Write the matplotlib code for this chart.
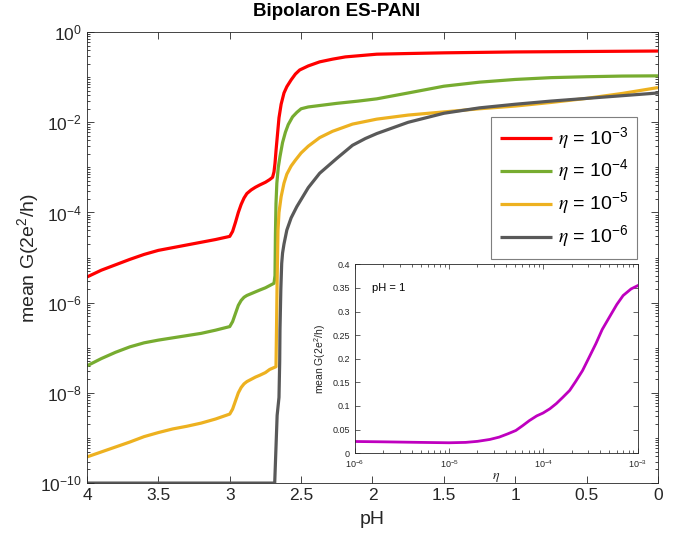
import numpy as np
import matplotlib
matplotlib.use("Agg")
from matplotlib import pyplot as plt, ticker

plt.rcParams['font.family'] = ['Liberation Sans', 'DejaVu Sans']
plt.rcParams['mathtext.fontset'] = 'custom'
plt.rcParams['mathtext.rm'] = 'Liberation Sans'
plt.rcParams['mathtext.it'] = 'STIXGeneral:italic'

# ---- main panel: mean conductance vs pH (log10 values)
ph_red = [4.0, 3.9, 3.8, 3.7, 3.6, 3.5, 3.4, 3.3, 3.2, 3.1, 3.0, 2.98, 2.96, 2.94, 2.92, 2.90,
          2.88, 2.85, 2.82, 2.79, 2.75, 2.72, 2.70, 2.69, 2.683, 2.675, 2.665, 2.655, 2.64, 2.62,
          2.60, 2.57, 2.54, 2.51, 2.45, 2.37, 2.28, 2.19, 2.08, 1.97, 1.75, 1.5, 1.0, 0.5, 0.0]
lg_red = [-5.43, -5.28, -5.16, -5.04, -4.93, -4.84, -4.78, -4.72, -4.66, -4.60, -4.53, -4.42,
          -4.22, -4.00, -3.82, -3.68, -3.58, -3.50, -3.44, -3.39, -3.33, -3.27, -3.22, -3.10,
          -2.91, -2.60, -2.25, -1.90, -1.60, -1.35, -1.21, -1.06, -0.93, -0.84, -0.75, -0.66,
          -0.60, -0.55, -0.52, -0.49, -0.475, -0.46, -0.44, -0.43, -0.42]

ph_green = [4.0, 3.9, 3.8, 3.7, 3.6, 3.5, 3.4, 3.3, 3.2, 3.1, 3.0, 2.98, 2.96, 2.94, 2.92, 2.90,
            2.88, 2.85, 2.82, 2.79, 2.75, 2.72, 2.69, 2.683, 2.68, 2.676, 2.67, 2.66, 2.648, 2.63,
            2.61, 2.59, 2.56, 2.53, 2.50, 2.45, 2.35, 2.25, 2.1, 1.97, 1.75, 1.5, 1.25, 1.0,
            0.75, 0.5, 0.25, 0.0]
lg_green = [-7.40, -7.24, -7.10, -6.98, -6.89, -6.83, -6.78, -6.73, -6.68, -6.61, -6.53, -6.42,
            -6.24, -6.06, -5.95, -5.88, -5.84, -5.80, -5.76, -5.72, -5.67, -5.62, -5.57, -5.40,
            -4.50, -3.80, -3.35, -3.00, -2.76, -2.45, -2.22, -2.05, -1.88, -1.78, -1.70, -1.66,
            -1.62, -1.58, -1.53, -1.48, -1.35, -1.20, -1.11, -1.05, -1.01, -0.99, -0.975, -0.97]

ph_yellow = [4.0, 3.9, 3.8, 3.7, 3.6, 3.5, 3.4, 3.3, 3.2, 3.1, 3.0, 2.98, 2.96, 2.94, 2.92, 2.90,
             2.88, 2.85, 2.82, 2.79, 2.75, 2.72, 2.676, 2.672, 2.668, 2.662, 2.655, 2.64, 2.62,
             2.60, 2.57, 2.54, 2.50, 2.45, 2.37, 2.28, 2.14, 1.97, 1.75, 1.5, 1.25, 1.0, 0.75,
             0.5, 0.25, 0.0]
lg_yellow = [-9.42, -9.31, -9.20, -9.09, -8.97, -8.88, -8.80, -8.74, -8.67, -8.58, -8.47, -8.36,
             -8.18, -8.00, -7.88, -7.80, -7.75, -7.70, -7.65, -7.61, -7.55, -7.48, -7.42, -6.50,
             -5.50, -4.40, -4.00, -3.65, -3.35, -3.15, -2.97, -2.84, -2.68, -2.53, -2.34, -2.20,
             -2.04, -1.93, -1.84, -1.77, -1.70, -1.64, -1.56, -1.47, -1.36, -1.23]

ph_gray = [4.0, 2.685, 2.668, 2.655, 2.650, 2.648, 2.642, 2.636, 2.63, 2.62, 2.60, 2.57, 2.53,
           2.45, 2.37, 2.25, 2.14, 2.05, 1.97, 1.75, 1.5, 1.25, 1.0, 0.75, 0.5, 0.25, 0.0]
lg_gray = [-10.0, -10.0, -8.50, -8.10, -7.30, -6.60, -5.70, -5.13, -4.90, -4.70, -4.39, -4.12,
           -3.87, -3.45, -3.13, -2.80, -2.51, -2.36, -2.25, -2.00, -1.80, -1.68, -1.60, -1.53,
           -1.47, -1.41, -1.35]

labels = [r'$\eta$ = 10$^{-3}$', r'$\eta$ = 10$^{-4}$', r'$\eta$ = 10$^{-5}$', r'$\eta$ = 10$^{-6}$']
colors = ['#FF0000', '#77AC30', '#EDB120', '#595959']

# ---- inset: mean conductance vs eta at pH = 1
eta = [1e-6, 2e-6, 5e-6, 1e-5, 1.5e-5, 2e-5, 2.7e-5, 3.4e-5, 4.2e-5, 5.1e-5, 6e-5, 7.1e-5,
       8.5e-5, 9.9e-5, 1.17e-4, 1.37e-4, 1.6e-4, 1.9e-4, 2.2e-4, 2.6e-4, 3e-4, 3.6e-4, 4.2e-4,
       5e-4, 6e-4, 7e-4, 8.5e-4, 1e-3]
g_eta = [0.0247, 0.024, 0.0228, 0.022, 0.0228, 0.025, 0.029, 0.034, 0.041, 0.048, 0.058, 0.069,
         0.079, 0.085, 0.094, 0.105, 0.118, 0.133, 0.152, 0.175, 0.200, 0.232, 0.262, 0.288,
         0.315, 0.334, 0.348, 0.355]

axis_col = '#262626'

fig = plt.figure(figsize=(6.77, 5.44), dpi=100)
ax = fig.add_axes([0.1285, 0.112, 0.8434, 0.829])

series = [(ph_red, lg_red), (ph_green, lg_green), (ph_yellow, lg_yellow), (ph_gray, lg_gray)]
for (ph, lg), c, lab in zip(series, colors, labels):
    ax.plot(ph, 10.0 ** np.array(lg), color=c, linewidth=2.3, label=lab,
            solid_joinstyle='round', solid_capstyle='butt')

ax.set_yscale('log')
ax.set_xlim(4, 0)
ax.set_ylim(1e-10, 1)
ax.set_xticks(np.arange(0, 4.01, 0.5))
ax.xaxis.set_major_formatter(ticker.FuncFormatter(lambda v, p: '%g' % v))
ax.set_yticks([10.0 ** k for k in range(-10, 1, 2)])
ax.yaxis.set_minor_locator(ticker.LogLocator(base=10, subs=np.arange(1, 10), numticks=30))
ax.yaxis.set_minor_formatter(ticker.NullFormatter())
ax.tick_params(which='both', direction='in', top=True, right=True, colors=axis_col,
               labelsize=12.5, width=0.6)
ax.tick_params(which='major', length=5)
ax.tick_params(which='minor', length=2.5)
for s in ax.spines.values():
    s.set_color(axis_col)
    s.set_linewidth(0.6)

ax.set_xlabel('pH', fontsize=14, color=axis_col, labelpad=6)
ax.set_ylabel('mean G(2e$^2$/h)', fontsize=14, color=axis_col)
ax.yaxis.set_label_coords(-0.079, 0.5)
fig.text(337 / 677, 1 - 12 / 544, 'Bipolaron ES-PANI', fontsize=13.5, fontweight='bold',
         ha='center', va='center')

leg = ax.legend(loc='upper right', bbox_to_anchor=(0.981, 0.834), fontsize=14,
                handlelength=2.7, handletextpad=0.3, labelspacing=0.35, borderpad=0.45,
                fancybox=False, framealpha=1, edgecolor='#7f7f7f')
leg.get_frame().set_linewidth(0.8)

# inset
ins = fig.add_axes([0.524, 0.167, 0.418, 0.347])
ins.plot(eta, g_eta, color='#BF00BF', linewidth=2.0)
ins.set_xscale('log')
ins.set_xlim(1e-6, 1e-3)
ins.set_ylim(0, 0.4)
ins.set_yticks(np.arange(0, 0.401, 0.05))
ins.yaxis.set_major_formatter(ticker.FuncFormatter(lambda v, p: '%g' % round(v, 2)))
ins.xaxis.set_minor_locator(ticker.LogLocator(base=10, subs=np.arange(2, 10), numticks=20))
ins.xaxis.set_minor_formatter(ticker.NullFormatter())
ins.tick_params(which='both', direction='in', top=True, right=True, colors=axis_col,
                labelsize=6.5, width=0.5)
ins.tick_params(which='major', length=3.5)
ins.tick_params(which='minor', length=2)
for s in ins.spines.values():
    s.set_color(axis_col)
    s.set_linewidth(0.6)
ins.set_xlabel(r'$\eta$', fontsize=10, color=axis_col, labelpad=0)
ins.set_ylabel('mean G(2e$^2$/h)', fontsize=7.5, color=axis_col, labelpad=3)
ins.text(0.06, 0.86, 'pH = 1', transform=ins.transAxes, fontsize=8, color='black')

fig.savefig('out.png', dpi=100)
